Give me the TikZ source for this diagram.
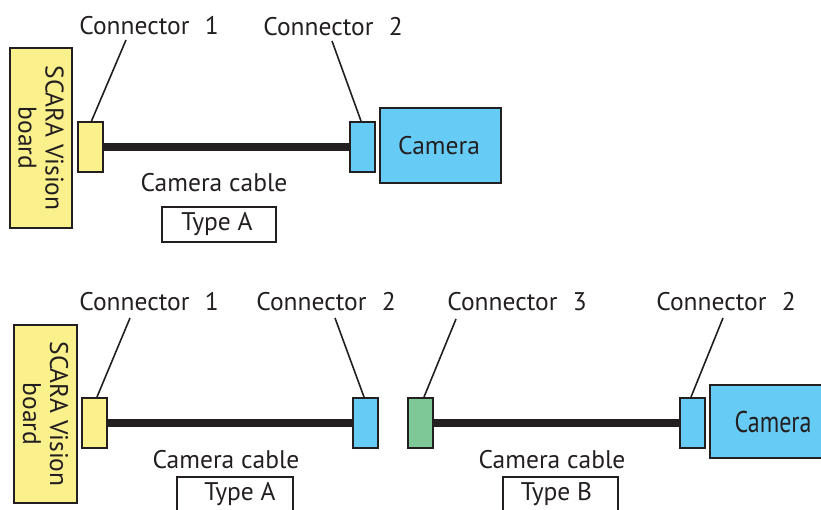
\documentclass[tikz,border=0pt]{standalone}
\usepackage{fontspec}
\setmainfont{PT Sans}
\definecolor{edge}{HTML}{231F20}
\definecolor{yel}{HTML}{FAF08C}
\definecolor{sky}{HTML}{66CCF5}
\definecolor{grn}{HTML}{7DC896}
\begin{document}
\begin{tikzpicture}[x=1pt,y=-1pt,
  box/.style={draw=edge, line width=2pt, inner sep=0pt},
  conn/.style={box, minimum width=25pt, minimum height=50pt},
  lbl/.style={font=\fontsize{25.5}{27}\selectfont, inner sep=0pt, text=edge},
  lead/.style={line width=1.6pt, draw=edge},
  cable/.style={line width=8pt, draw=edge}]
\clip (0,0) rectangle (821,509);
% ---------- top ----------
\node[box, fill=yel, rotate=-90, minimum width=180pt, minimum height=62pt, align=center, lbl] (b1) at (41,138) {SCARA Vision\\board};
\node[conn, fill=yel] (c1) at (90.5,147) {};
\node[conn, fill=sky] (c2) at (362,147) {};
\node[box, fill=sky, minimum width=121pt, minimum height=75pt, lbl] (cam1) at (440.5,145.5) {\hspace{-3pt}Camera};
\draw[cable] (c1.east) -- (c2.west);
\node[lbl] (l1) at (149,26) {Connector\hspace{0.6em}1};
\node[lbl] (l2) at (333,27) {Connector\hspace{0.6em}2};
\coordinate (t1) at (126,40);
\coordinate (t2) at (332,41);
\draw[lead] (t1) -- ([xshift=1pt]c1.north);
\draw[lead] (t2) -- ([xshift=-1pt]c2.north);
\node[lbl] (cc1) at (214,183) {Camera cable};
\node[box, minimum width=114pt, minimum height=35pt] (ta1) at (219,224.5) {};
\node[lbl] at (217,224) {Type A};
% ---------- bottom ----------
\node[box, fill=yel, rotate=-90, minimum width=178pt, minimum height=63pt, align=center, lbl] (b2) at (45.5,414) {SCARA Vision\\board};
\node[conn, fill=yel] (d1) at (94.5,423) {};
\node[conn, fill=sky] (d2) at (365.5,423) {};
\node[conn, fill=grn] (d3) at (420,423) {};
\node[conn, fill=sky] (d4) at (692,423) {};
\node[box, fill=sky, minimum width=126pt, minimum height=73pt, lbl] (cam2) at (773,421.5) {\scalebox{0.8}[1]{\fontsize{30}{32}\selectfont Camera}};
\draw[cable] (d1.east) -- (d2.west);
\draw[cable] (d3.east) -- (d4.west);
\node[lbl] (m1) at (149,302) {Connector\hspace{0.6em}1};
\node[lbl] (m2) at (326,302) {Connector\hspace{0.6em}2};
\node[lbl] (m3) at (517,302) {Connector\hspace{0.6em}3};
\node[lbl] (m4) at (726,302) {Connector\hspace{0.6em}2};
\coordinate (s1) at (130,318);
\coordinate (s2) at (335,318);
\coordinate (s3) at (456,319);
\coordinate (s4) at (723,318);
\draw[lead] (s1) -- ([xshift=2.5pt]d1.north);
\draw[lead] (s2) -- ([xshift=-1.5pt]d2.north);
\draw[lead] (s3) -- ([xshift=4pt]d3.north);
\draw[lead] (s4) -- ([xshift=-1pt]d4.north);
\node[lbl] (cc2) at (226,460) {Camera cable};
\node[lbl] (cc3) at (552,460) {Camera cable};
\node[box, minimum width=116pt, minimum height=43pt] (ta2) at (235,498.5) {};
\node[lbl] at (240,494) {Type A};
\node[box, minimum width=115pt, minimum height=43pt] (tb2) at (560.5,498.5) {};
\node[lbl] at (556.5,494) {Type B};
\end{tikzpicture}
\end{document}
